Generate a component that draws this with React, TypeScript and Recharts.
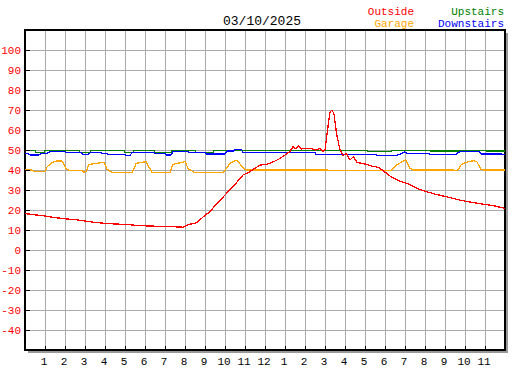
import { CartesianGrid, Line, LineChart, ReferenceArea, XAxis, YAxis } from "recharts";

const FONT = "'Liberation Mono', 'DejaVu Sans Mono', monospace";
const GRID = "#aaaaaa";

const HOUR_TICKS = [0, 1, 2, 3, 4, 5, 6, 7, 8, 9, 10, 11, 12, 13, 14, 15, 16, 17, 18, 19, 20, 21, 22, 23, 24];
const TEMP_TICKS = [-50, -40, -30, -20, -10, 0, 10, 20, 30, 40, 50, 60, 70, 80, 90, 100, 110];

const outsideHours = [
  0, 0.5, 1, 1.5, 2, 2.5, 3, 3.5, 4, 4.5, 5, 5.5, 6, 6.5, 7, 7.5, 7.9, 8.1, 8.6, 8.9, 9.25, 9.6, 10,
  10.4, 10.9, 11.25, 11.75, 12.1, 12.4, 12.7, 13, 13.25, 13.4, 13.5, 13.67, 13.8, 14.1, 14.3, 14.5,
  14.75, 14.9, 15, 15.1, 15.25, 15.35, 15.45, 15.58, 15.75, 15.9, 16.08, 16.25, 16.42, 16.6, 16.83,
  17, 17.33, 17.67, 17.9, 18.25, 18.6, 19.1, 19.75, 20.2, 20.6, 21, 21.4, 21.8, 22.25, 22.7, 23.1,
  23.5, 24,
];
const outsideTemps = [
  18.2, 17.6, 17, 16.2, 15.6, 15.2, 14.5, 13.8, 13.3, 13, 12.8, 12.4, 12.1, 11.9, 11.7, 11.6, 11.4,
  12.5, 13.7, 16.5, 19.2, 23.3, 27.5, 31.7, 37.5, 39.2, 42.5, 42.8, 44, 45.5, 47.5, 49.2, 51.7, 50.5,
  52, 50.5, 50.8, 50.8, 50, 50.8, 49.2, 50, 58, 69, 70, 68, 58, 50, 47.2, 48.3, 45, 46.7, 43.8, 43.3,
  43, 42, 41.3, 39.7, 37, 35, 33.3, 30.2, 28.8, 27.7, 26.8, 25.8, 24.8, 24, 23.2, 22.7, 22, 20.8,
];

const garageHours = [
  0, 0.35, 0.45, 1, 1.1, 1.35, 1.6, 1.85, 2.05, 2.2, 2.85, 2.95, 3.05, 3.2, 3.85, 3.97, 4.1, 4.35,
  5.35, 5.45, 5.55, 5.85, 6.05, 6.17, 6.28, 6.35, 7.25, 7.4, 8, 8.17, 8.35, 8.45, 9.92, 10.05, 10.25,
  10.6, 10.75, 10.92, 11.05, 15.15, 15.2, 18.3, 18.33, 18.58, 18.92, 19.03, 19.25, 19.42, 21.45,
  21.5, 21.62, 21.8, 22, 22.45, 22.6, 22.78, 22.95, 24,
];
const garageTemps = [
  40, 40, 39.3, 39.3, 41.5, 43.8, 44.5, 44.5, 40.8, 39.8, 39.8, 38.9, 39.2, 42.8, 43.7, 43.7, 40.3,
  38.9, 38.9, 40.5, 43.3, 43.8, 44.2, 42, 40, 38.9, 38.9, 42.8, 44.2, 40.5, 39.5, 38.9, 38.9, 40.5,
  43.3, 45, 43, 40.8, 40, 40, 39.6, 39.6, 40, 42.5, 44.5, 45, 40.8, 40, 40, 39.7, 39.7, 42.5, 43.7,
  44.7, 44, 40.5, 40, 40,
];

const upstairsHours = [
  0, 0.5, 0.55, 0.95, 1, 2.7, 2.75, 3.25, 3.3, 4.95, 5, 5.4, 5.45, 6.45, 6.5, 7.3, 7.35, 8.5, 8.55,
  9.4, 9.45, 17.1, 17.15, 18.3, 18.35, 20.2, 20.25, 21.8, 21.85, 23, 23.05, 24,
];
const upstairsTemps = [
  49.7, 49.7, 48.9, 48.9, 49.8, 49.8, 48.9, 48.9, 49.8, 49.8, 48.9, 48.9, 49.8, 49.8, 48.9, 48.9,
  49.8, 49.8, 48.9, 48.9, 49.9, 49.9, 49.4, 49.4, 49.9, 49.9, 49.5, 49.5, 49.9, 49.9, 49.5, 49.5,
];

const downstairsHours = [
  0, 0.15, 0.25, 0.7, 0.8, 1.1, 1.25, 2, 2.1, 2.8, 2.9, 3.15, 3.3, 3.75, 3.85, 4.1, 4.15, 5, 5.08,
  5.25, 5.35, 6.4, 6.5, 7, 7.05, 7.3, 7.4, 8.15, 8.2, 9, 9.05, 10, 10.1, 10.45, 10.5, 10.8, 10.9,
  14.5, 14.55, 17.55, 17.6, 18.55, 19, 19.1, 20.2, 20.3, 21.5, 21.75, 22.7, 22.8, 23.8, 24,
];
const downstairsTemps = [
  48.3, 48.3, 47.5, 47.5, 48.3, 48.3, 49.3, 49.3, 48.6, 48.6, 47.6, 47.6, 48.9, 48.9, 48.3, 48.3,
  47.8, 47.8, 47.2, 47.2, 48.8, 48.8, 48.3, 48.3, 47.5, 47.5, 49.4, 49.4, 48.8, 48.8, 48, 48, 49.5,
  49.5, 50.3, 50.3, 48.8, 48.8, 47.9, 47.9, 47.1, 47.1, 49, 48.3, 48.3, 47.6, 47.6, 49.2, 49.2, 48,
  48, 47.6,
];

const toPoints = (hours: number[], temps: number[]) => hours.map((h, i) => ({ h, t: temps[i] }));

const hourLabel = (h: number) => (h === 0 || h === 24 ? "" : String(h % 12 === 0 ? 12 : h % 12));

function YTick({ x, y, payload }: any) {
  const v = payload.value;
  if (v <= -50 || v >= 110) return null;
  return (
    <g>
      <line x1={x} x2={x + 5} y1={y} y2={y} stroke="#000" />
      <text x={x - 4} y={y + 4} textAnchor="end" fill="#ff0000" fontSize={11} fontFamily={FONT}>
        {v}
      </text>
    </g>
  );
}

function XTick({ x, y, payload }: any) {
  const label = hourLabel(payload.value);
  if (!label) return null;
  return (
    <g>
      <line x1={x} x2={x} y1={y} y2={y - 4} stroke="#000" />
      <text x={x - 1} y={y + 15} textAnchor="middle" fill="#000" fontSize={11} fontFamily={FONT}>
        {label}
      </text>
    </g>
  );
}

export default function App() {
  const series = [
    { name: "Garage", color: "#ffa500", pts: toPoints(garageHours, garageTemps) },
    { name: "Upstairs", color: "#008000", pts: toPoints(upstairsHours, upstairsTemps) },
    { name: "Downstairs", color: "#0000ff", pts: toPoints(downstairsHours, downstairsTemps) },
    { name: "Outside", color: "#ff0000", pts: toPoints(outsideHours, outsideTemps) },
  ];

  return (
    <div style={{ position: "absolute", left: 0, top: 0, width: 527, height: 370, background: "#fff" }}>
      {/* drop shadow behind the plot frame */}
      <div style={{ position: "absolute", left: 28, top: 33, width: 480, height: 320, background: "#999" }} />
      <div style={{ position: "absolute", left: 0, top: 0, shapeRendering: "crispEdges" }}>
        <LineChart width={527} height={370} margin={{ top: 30, right: 22, bottom: 0, left: 0 }}>
          <CartesianGrid stroke={GRID} fill="#fff" fillOpacity={1} />
          <XAxis
            type="number"
            dataKey="h"
            domain={[0, 24]}
            ticks={HOUR_TICKS}
            interval={0}
            tick={<XTick />}
            tickLine={false}
            axisLine={false}
            tickSize={0}
            tickMargin={0}
            height={20}
          />
          <YAxis
            type="number"
            domain={[-50, 110]}
            ticks={TEMP_TICKS}
            interval={0}
            tick={<YTick />}
            tickLine={false}
            axisLine={false}
            tickSize={0}
            tickMargin={0}
            width={25}
          />
          {series.map((s) => (
            <Line
              key={s.name}
              data={s.pts}
              dataKey="t"
              type="linear"
              stroke={s.color}
              strokeWidth={1.3}
              dot={false}
              isAnimationActive={false}
            />
          ))}
          <ReferenceArea x1={0} x2={24} y1={-50} y2={110} fill="none" stroke="#000" strokeWidth={2} ifOverflow="visible" />
        </LineChart>
      </div>
      <svg width={527} height={40} style={{ position: "absolute", left: 0, top: 0 }}>
        <text x={262} y={25} textAnchor="middle" fontSize={13} fontFamily={FONT} fill="#000">
          03/10/2025
        </text>
        <text x={414} y={15} textAnchor="end" fontSize={11} fontFamily={FONT} fill="#ff0000">Outside</text>
        <text x={414} y={27} textAnchor="end" fontSize={11} fontFamily={FONT} fill="#ffa500">Garage</text>
        <text x={504} y={15} textAnchor="end" fontSize={11} fontFamily={FONT} fill="#008000">Upstairs</text>
        <text x={504} y={27} textAnchor="end" fontSize={11} fontFamily={FONT} fill="#0000ff">Downstairs</text>
      </svg>
    </div>
  );
}
